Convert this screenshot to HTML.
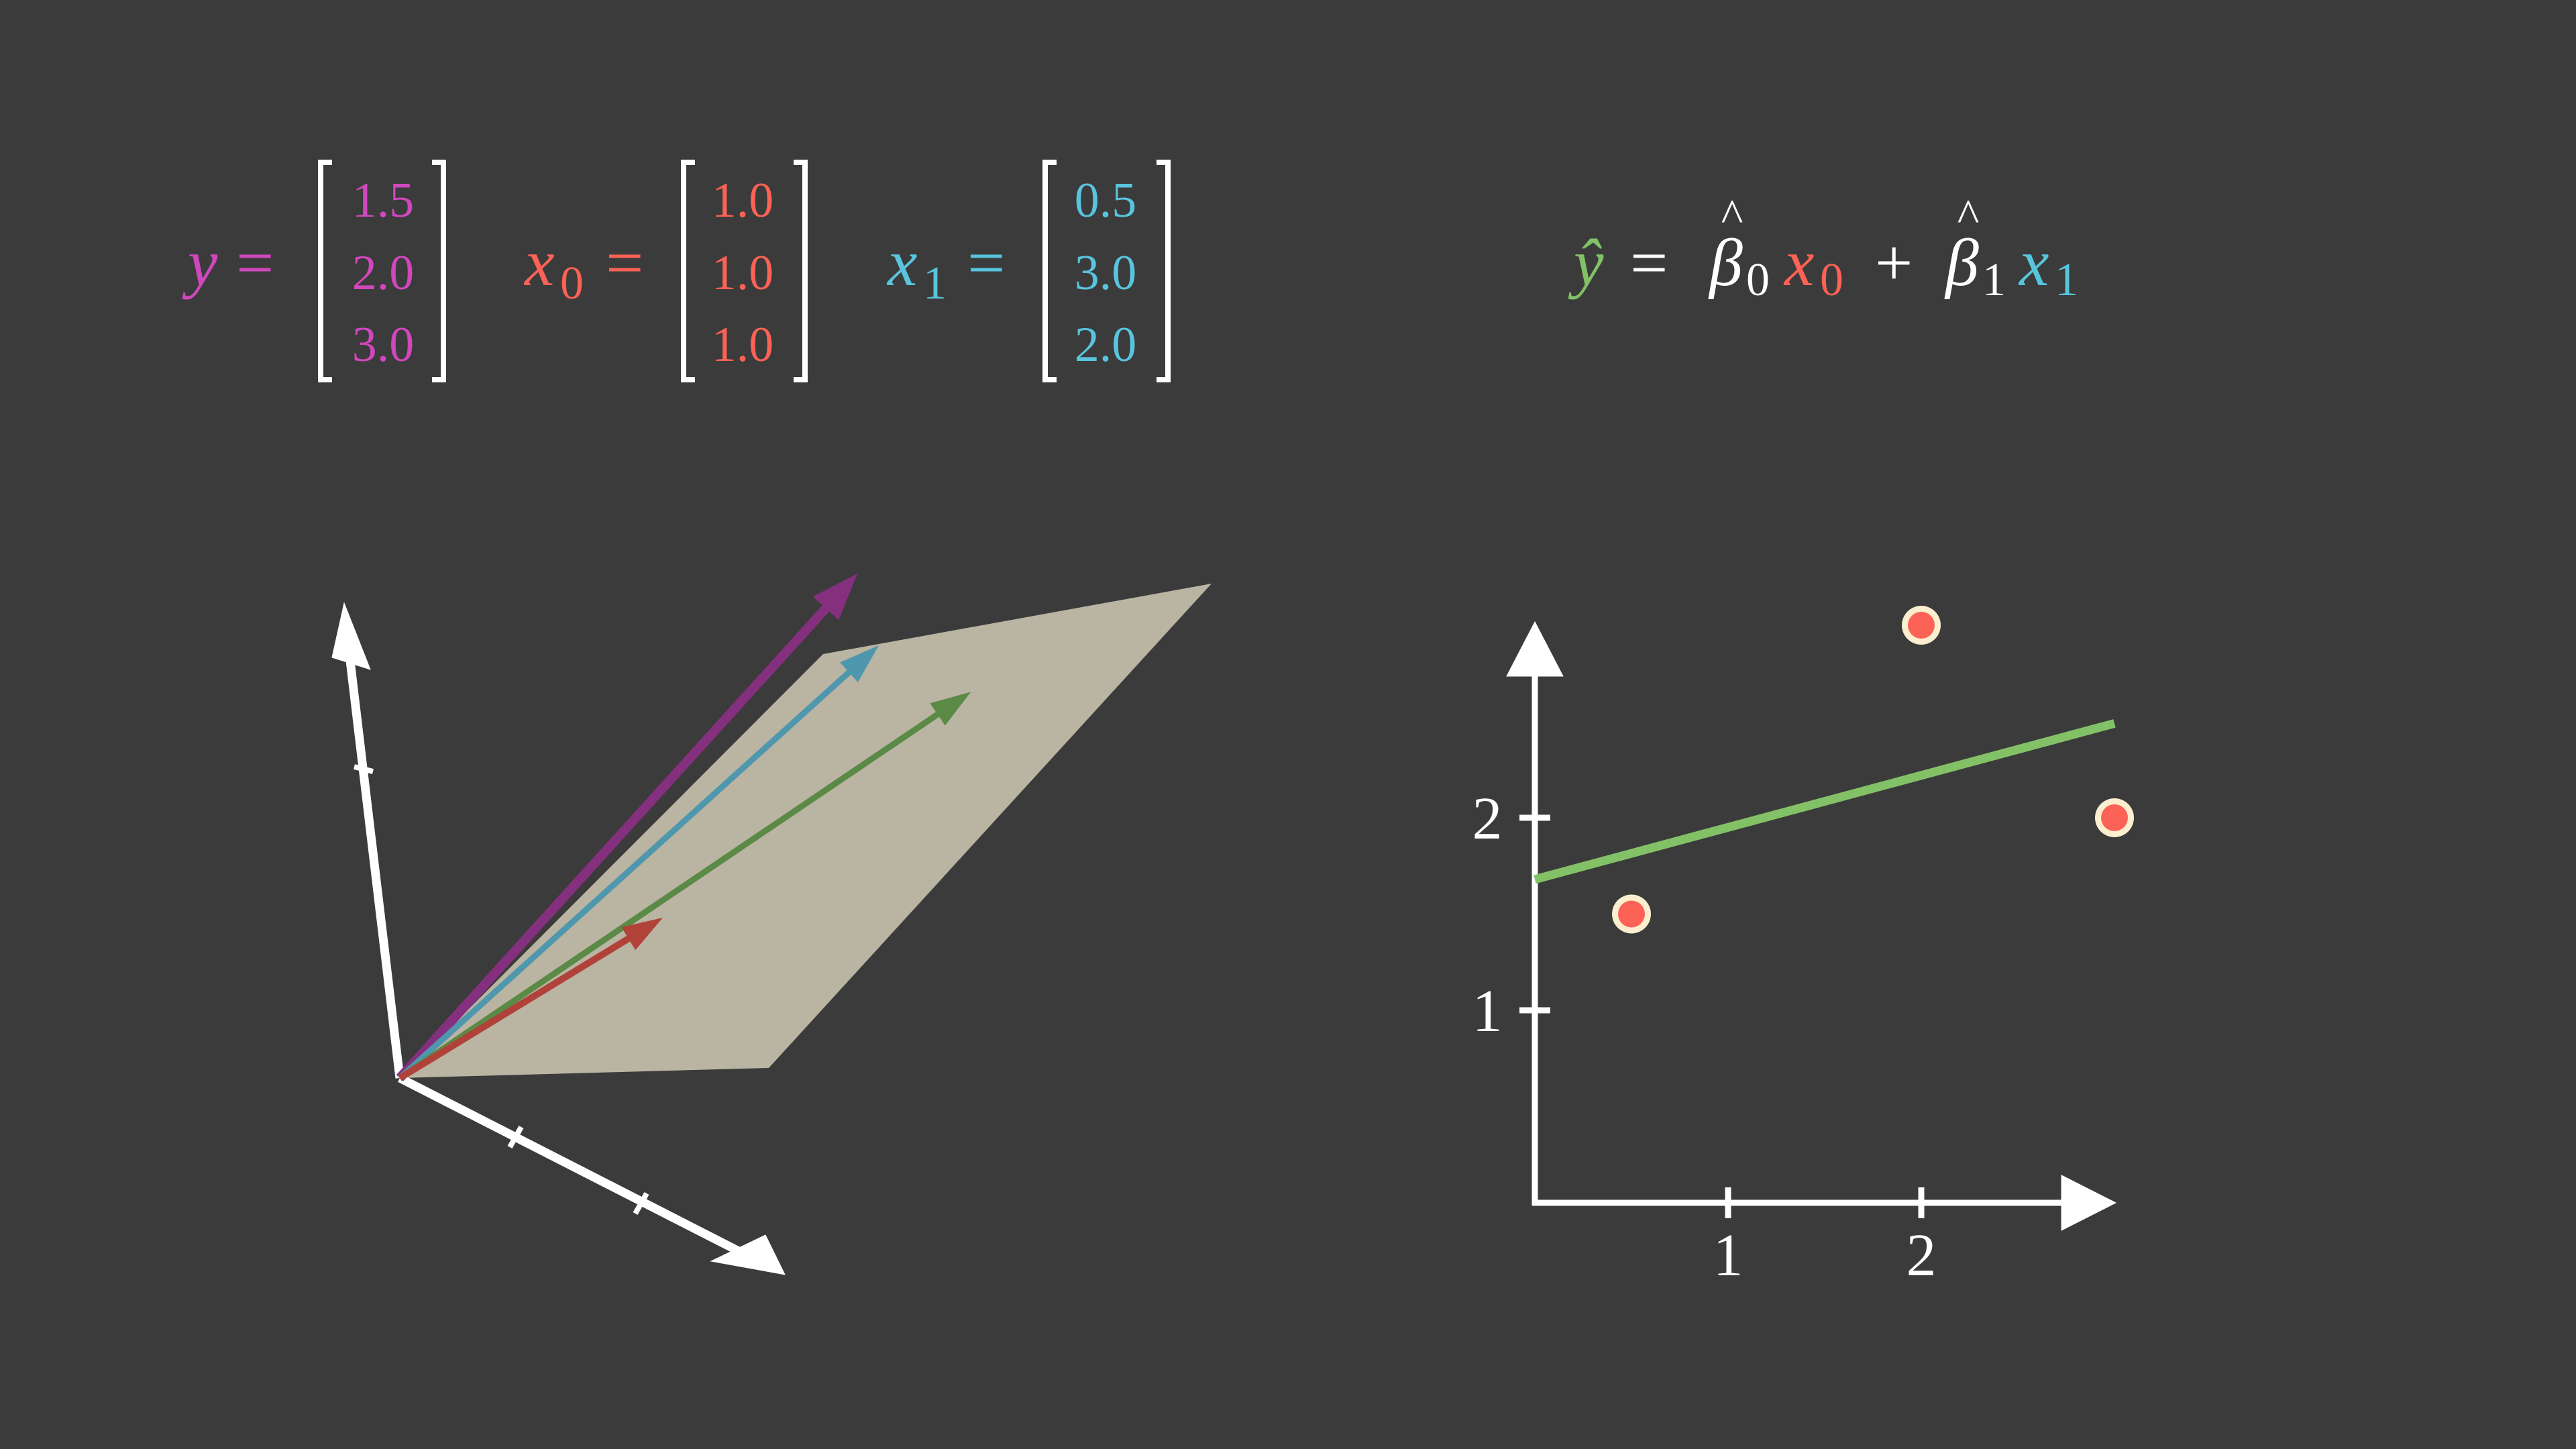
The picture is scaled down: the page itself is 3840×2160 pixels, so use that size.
<!DOCTYPE html>
<html><head><meta charset="utf-8"><style>
html,body{margin:0;padding:0;background:#3b3b3b;}
svg{display:block;}
.m{font-family:"Liberation Serif","DejaVu Serif",serif;}
</style></head><body>
<svg id="root" width="3840" height="2160" viewBox="0 0 3840 2160" xmlns="http://www.w3.org/2000/svg">
<rect width="3840" height="2160" fill="#3b3b3b"/>

<g class="m">
  <g fill="#D147BD">
    <text x="280" y="425" font-size="100" font-style="italic">y</text>
    <text x="352" y="425" font-size="100">=</text>
  </g>
  <g fill="#FC6255">
    <text x="782" y="425" font-size="100" font-style="italic">x</text>
    <text x="835" y="445" font-size="70">0</text>
    <text x="903" y="425" font-size="100">=</text>
  </g>
  <g fill="#58C4DD">
    <text x="1323" y="425" font-size="100" font-style="italic">x</text>
    <text x="1376" y="445" font-size="70">1</text>
    <text x="1442" y="425" font-size="100">=</text>
  </g>
  <g id="matrices"></g>
</g>

<g class="m" font-size="100">
  <text x="2346" y="425" fill="#83C167" font-style="italic">ŷ</text>
  <text x="2430" y="425" fill="#ffffff">=</text>
  <text x="2548" y="425" fill="#ffffff" font-style="italic">β</text>
  <text x="2582" y="345" fill="#ffffff" font-size="70" text-anchor="middle">^</text>
  <text x="2603" y="440" fill="#ffffff" font-size="70">0</text>
  <text x="2660" y="425" fill="#FC6255" font-style="italic">x</text>
  <text x="2713" y="440" fill="#FC6255" font-size="70">0</text>
  <text x="2795" y="425" fill="#ffffff">+</text>
  <text x="2900" y="425" fill="#ffffff" font-style="italic">β</text>
  <text x="2934" y="345" fill="#ffffff" font-size="70" text-anchor="middle">^</text>
  <text x="2955" y="440" fill="#ffffff" font-size="70">1</text>
  <text x="3010" y="425" fill="#58C4DD" font-style="italic">x</text>
  <text x="3063" y="440" fill="#58C4DD" font-size="70">1</text>
</g>

<g id="view3d">
  <polygon points="596,1607 1146,1592 1806,870 1227,975" fill="#bab4a2"/>
  <g stroke="#ffffff" fill="#ffffff">
    <line x1="596" y1="1607" x2="522" y2="985" stroke-width="13"/>
    <polygon points="513,899 495,980 552,998" />
    <line x1="528" y1="1143" x2="556" y2="1150" stroke-width="8"/>
  </g>
  <g stroke="#ffffff" fill="#ffffff">
    <line x1="596" y1="1607" x2="1105" y2="1867" stroke-width="13"/>
    <polygon points="1170,1900 1060,1880 1141,1841" />
    <line x1="760" y1="1710" x2="777" y2="1680" stroke-width="8"/>
    <line x1="947" y1="1809" x2="964" y2="1779" stroke-width="8"/>
  </g>
  <g id="vecs"></g>
</g>

<g id="plot2d"></g>
</svg>
<script>
const yValues = [1.5, 2.0, 3.0];
const x0Values = [1.0, 1.0, 1.0];
const x1Values = [0.5, 3.0, 2.0];
const betaHat = [1.68, 0.27];
const xTickLabels = ["1", "2"];
const yTickLabels = ["1", "2"];
const xTicks = [1, 2];
const yTicks = [1, 2];

const NS = "http://www.w3.org/2000/svg";
function mk(tag, attrs, parent){
  const e = document.createElementNS(NS, tag);
  for (const k in attrs) e.setAttribute(k, attrs[k]);
  parent.appendChild(e); return e;
}
const fmt = v => v.toFixed(1);

const mats = document.getElementById('matrices');
const matSpec = [
  {vals: yValues, left: 473, right: 666, cx: 571, color: "#D147BD", name: "y-matrix"},
  {vals: x0Values, left: 1014, right: 1205, cx: 1107, color: "#FC6255", name: "x0-matrix"},
  {vals: x1Values, left: 1553, right: 1746, cx: 1648, color: "#58C4DD", name: "x1-matrix"}
];
const rowY = [323, 431, 538];
matSpec.forEach(m => {
  const g = mk('g', {}, mats);
  
  
  const b1 = mk('path', {d:`M${m.left+22},242 H${m.left+5} V566 H${m.left+22}`, stroke:"#fff", "stroke-width":"8", fill:"none"}, g);
  
  
  const b2 = mk('path', {d:`M${m.right-22},242 H${m.right-5} V566 H${m.right-22}`, stroke:"#fff", "stroke-width":"8", fill:"none"}, g);
  
  
  m.vals.forEach((v, i) => {
    const t = mk('text', {x: m.cx, y: rowY[i], "text-anchor":"middle", "font-size":"74", fill: m.color}, g);
    
    
    t.textContent = fmt(v);
  });
});

const O = [596, 1607];
const E1 = [188, 67.3], E2 = [212, -66], E3 = [-8, -240.3];
function proj(v){ return [O[0]+v[0]*E1[0]+v[1]*E2[0]+v[2]*E3[0], O[1]+v[0]*E1[1]+v[1]*E2[1]+v[2]*E3[1]]; }
const yhatVec = x0Values.map((a, i) => betaHat[0]*a + betaHat[1]*x1Values[i]);
const vg = document.getElementById('vecs');
function arrow(vec, color, w, hl, hw, name){
  const p = proj(vec);
  const dx = p[0]-O[0], dy = p[1]-O[1], L = Math.hypot(dx, dy);
  const ux = dx/L, uy = dy/L, nx = -uy, ny = ux;
  const bx = p[0]-ux*hl, by = p[1]-uy*hl;
  const g = mk('g', {}, vg);
  
  
  mk('line', {x1:O[0], y1:O[1], x2:bx+ux*4, y2:by+uy*4, stroke:color, "stroke-width":w}, g);
  mk('polygon', {points:`${p[0]},${p[1]} ${bx+nx*hw},${by+ny*hw} ${bx-nx*hw},${by-ny*hw}`, fill:color}, g);
}
arrow(yValues, "#85307e", 14, 70, 26, "y-vector-arrow");
arrow(x1Values, "#4f97ad", 9, 60, 20, "x1-vector-arrow");
arrow(yhatVec, "#5a8a45", 9, 60, 20, "y-hat-vector-arrow");
arrow(x0Values, "#b1423a", 10, 60, 20, "x0-vector-arrow");

const pg = document.getElementById('plot2d');
const X0 = 2288, Y0 = 1793, UX = 288, UY = 287;
const xs = v => X0 + UX*v, ys = v => Y0 - UY*v;
const ax = mk('g', {stroke:"#fff", fill:"#fff"}, pg);


mk('line', {x1:X0, y1:Y0+4, x2:X0, y2:1005, "stroke-width":"9"}, ax);
mk('polygon', {points:`${X0},927 ${X0-42},1008 ${X0+42},1008`}, ax);
mk('line', {x1:X0-4, y1:Y0, x2:3076, y2:Y0, "stroke-width":"9"}, ax);
mk('polygon', {points:`3154,${Y0} 3073,${Y0-41} 3073,${Y0+41}`}, ax);
xTicks.forEach((v, i) => {
  const l = mk('line', {x1:xs(v), y1:Y0-23, x2:xs(v), y2:Y0+23, stroke:"#fff", "stroke-width":"9"}, pg);
  
  
  const t = mk('text', {x:xs(v), y:Y0+108, "text-anchor":"middle", "font-size":"90", fill:"#fff", class:"m"}, pg);
  
  
  t.textContent = xTickLabels[i];
});
yTicks.forEach((v, i) => {
  const l = mk('line', {x1:X0-23, y1:ys(v), x2:X0+23, y2:ys(v), stroke:"#fff", "stroke-width":"9"}, pg);
  
  
  const t = mk('text', {x:2217, y:ys(v)+31, "text-anchor":"middle", "font-size":"90", fill:"#fff", class:"m"}, pg);
  
  
  t.textContent = yTickLabels[i];
});
const fit = mk('line', {x1:xs(0), y1:ys(betaHat[0]), x2:xs(3), y2:ys(betaHat[0]+3*betaHat[1]), stroke:"#83C167", "stroke-width":"13"}, pg);


x1Values.forEach((xv, i) => {
  const g = mk('g', {}, pg);
  
  
  mk('circle', {cx:xs(xv), cy:ys(yValues[i]), r:29, fill:"#fcefd0"}, g);
  mk('circle', {cx:xs(xv), cy:ys(yValues[i]), r:20, fill:"#FC6255"}, g);
});
</script>
</body></html>
